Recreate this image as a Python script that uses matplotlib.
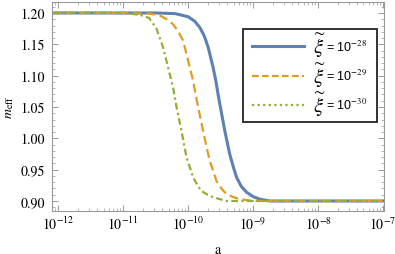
import numpy as np
import matplotlib.pyplot as plt
from matplotlib.lines import Line2D

plt.rcParams['mathtext.fontset'] = 'stix'

# log10(a) and m_eff
loga_28 = [-12.08, -11.0, -10.5, -10.2, -10.0, -9.9, -9.82, -9.75, -9.69, -9.615,
           -9.57, -9.53, -9.48, -9.435, -9.36, -9.30, -9.255, -9.18, -9.10, -9.0,
           -8.90, -8.74, -8.5, -7.0]
m_28 = [1.200, 1.200, 1.200, 1.199, 1.194, 1.187, 1.177, 1.163, 1.145, 1.113,
        1.090, 1.065, 1.037, 1.012, 0.975, 0.953, 0.938, 0.923, 0.914, 0.907,
        0.903, 0.900, 0.900, 0.900]

loga_29 = [-12.08, -11.0, -10.6, -10.435, -10.33, -10.231, -10.15, -10.077, -10.0,
           -9.923, -9.846, -9.769, -9.72, -9.666, -9.563, -9.48, -9.409, -9.30,
           -9.205, -9.0, -7.0]
m_29 = [1.200, 1.200, 1.199, 1.196, 1.190, 1.182, 1.170, 1.156, 1.124,
        1.092, 1.050, 1.012, 0.988, 0.964, 0.932, 0.919, 0.911, 0.906,
        0.903, 0.900, 0.900]

loga_30 = [-12.08, -11.2, -10.9, -10.74, -10.6, -10.486, -10.385, -10.308, -10.231,
           -10.178, -10.102, -10.025, -9.923, -9.85, -9.794, -9.70, -9.615,
           -9.409, -9.2, -7.0]
m_30 = [1.200, 1.200, 1.199, 1.197, 1.192, 1.175, 1.145, 1.113, 1.081,
        1.050, 1.012, 0.970, 0.938, 0.924, 0.916, 0.910, 0.906,
        0.900, 0.900, 0.900]

exponents = ['-28', '-29', '-30']
colors = ['#5E81B5', '#E19C24', '#8FB032']

fig = plt.figure(figsize=(3.95, 2.55), dpi=100)
ax = fig.add_axes([0.1316, 0.1686, 0.8405, 0.8184])

ax.plot(10**np.array(loga_28), m_28, color=colors[0], lw=2.2)
ax.plot(10**np.array(loga_29), m_29, color=colors[1], lw=1.6, ls=(0, (4, 2)))
ax.plot(10**np.array(loga_30), m_30, color=colors[2], lw=1.6, ls=(0, (3, 1.5, 1, 1.5)))

ax.set_xscale('log')
ax.set_xlim(10**-12.095, 10**-6.985)
ax.set_ylim(0.884, 1.217)
ax.set_yticks([0.90, 0.95, 1.00, 1.05, 1.10, 1.15, 1.20])
ax.set_yticks(np.arange(0.89, 1.215, 0.01), minor=True)
ax.set_yticklabels(['0.90', '0.95', '1.00', '1.05', '1.10', '1.15', '1.20'])

for lab in ax.get_xticklabels() + ax.get_yticklabels():
    lab.set_family('STIXGeneral')
ax.tick_params(which='both', direction='in', top=True, right=True,
               color='#999999', labelsize=10)
ax.tick_params(axis='y', pad=5)
ax.tick_params(axis='x', pad=3)
ax.tick_params(which='major', length=4, width=0.7)
ax.tick_params(which='minor', length=2, width=0.5)
for sp in ax.spines.values():
    sp.set_color('#999999')
    sp.set_linewidth(0.8)

ax.set_xlabel('a', family='STIXGeneral', fontsize=10, labelpad=7)
ax.set_ylabel(r'$m_{\rm eff}$', fontsize=10, labelpad=3)

# legend: "= 10^-n" as label, the bigger xi goes in the gap before it
handles = [Line2D([], [], color=colors[0], lw=2.2),
           Line2D([], [], color=colors[1], lw=1.6, ls=(0, (3, 1.5))),
           Line2D([], [], color=colors[2], lw=1.6, ls=(0, (1, 1.5)))]
labels = ['= 10$^{' + e + '}$' for e in exponents]
leg = ax.legend(handles, labels, loc='upper left', bbox_to_anchor=(0.575, 0.872),
                frameon=True, fancybox=False, handlelength=4.1, handletextpad=1.8,
                labelspacing=1.15, borderpad=0.75, borderaxespad=0,
                prop={'family': 'Liberation Sans', 'size': 9})
leg.get_frame().set_edgecolor('black')
leg.get_frame().set_linewidth(1.4)

fig.canvas.draw()
for t in leg.get_texts():
    bb = t.get_window_extent()
    ax.annotate(r'$\widetilde{\xi}$', xy=(bb.x0 - 0.5, (bb.y0 + bb.y1) / 2 + 1),
                xycoords='figure pixels', fontsize=15, ha='right', va='center',
                zorder=6)

fig.savefig('out.png', dpi=100)
